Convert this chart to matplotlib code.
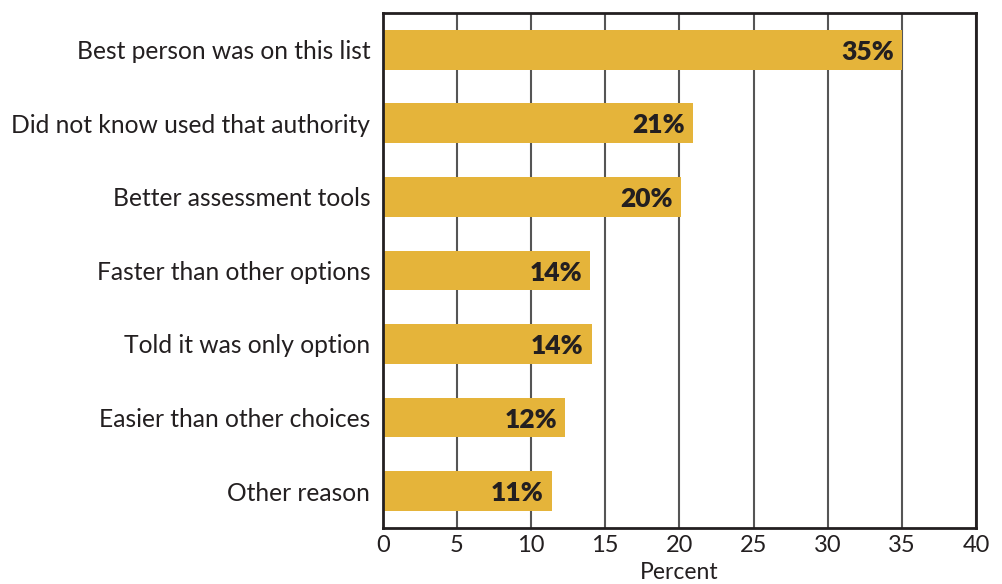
import matplotlib
matplotlib.use("Agg")
import matplotlib.pyplot as plt

categories = [
    "Best person was on this list",
    "Did not know used that authority",
    "Better assessment tools",
    "Faster than other options",
    "Told it was only option",
    "Easier than other choices",
    "Other reason",
]
values = [35, 20.9, 20.1, 14.0, 14.1, 12.3, 11.4]
value_labels = ["35%", "21%", "20%", "14%", "14%", "12%", "11%"]
x_ticks = [0, 5, 10, 15, 20, 25, 30, 35, 40]

bar_color = "#E5B43A"
text_color = "#231F20"

plt.rcParams["font.family"] = ["Lato", "DejaVu Sans"]

fig = plt.figure(figsize=(10.02, 5.84), dpi=100)
ax = fig.add_axes([0.382, 0.096, 0.592, 0.882])

ypos = list(range(len(categories)))
ax.barh(ypos, values, height=0.54, color=bar_color, zorder=2)

for y, v, lab in zip(ypos, values, value_labels):
    ax.text(v - 0.55, y + 0.03, lab, ha="right", va="center", fontsize=19,
            fontweight="heavy", color=text_color, zorder=3)

ax.set_xlim(0, 40)
ax.set_ylim(6.5, -0.5)
ax.set_xticks(x_ticks)
ax.set_yticks(ypos)
ax.set_yticklabels(categories, fontsize=17.7)
ax.tick_params(axis="both", length=0, colors=text_color)
ax.tick_params(axis="x", labelsize=17, pad=5)
ax.tick_params(axis="y", pad=9)
ax.xaxis.grid(True, color="#555555", linewidth=1.5, zorder=1)
ax.set_axisbelow(True)
for s in ax.spines.values():
    s.set_linewidth(2)
    s.set_color(text_color)

ax.set_xlabel("Percent", fontsize=16.5, color=text_color)
ax.xaxis.set_label_coords(0.5, -0.066)

fig.savefig("out.png", dpi=100)
